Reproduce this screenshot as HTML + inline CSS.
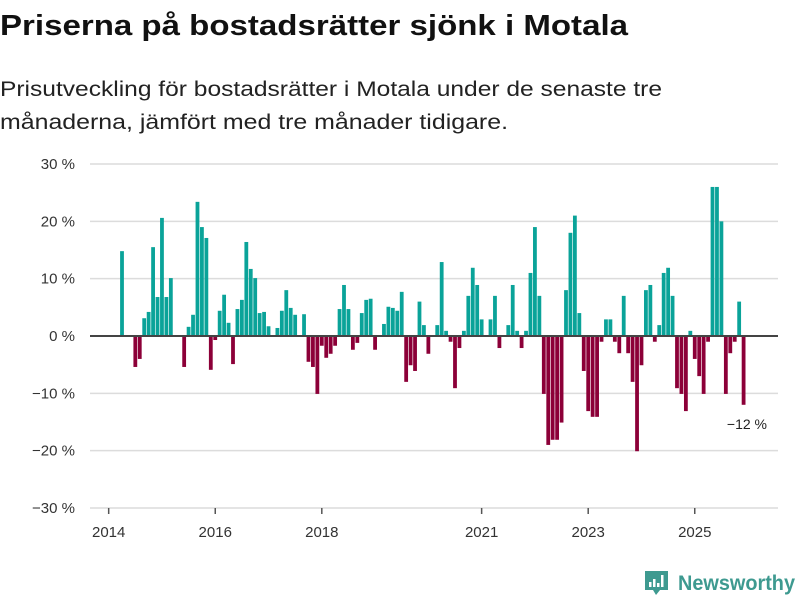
<!DOCTYPE html>
<html><head><meta charset="utf-8"><style>
html,body{margin:0;padding:0;background:#fff;}
svg{display:block;font-family:"Liberation Sans",sans-serif;}
</style></head><body>
<svg id="chart" width="800" height="600" viewBox="0 0 800 600">
<text x="0" y="35" font-size="29" font-weight="bold" fill="#111" textLength="628" lengthAdjust="spacingAndGlyphs">Priserna på bostadsrätter sjönk i Motala</text>
<text x="0" y="96" font-size="21" fill="#222" textLength="662" lengthAdjust="spacingAndGlyphs">Prisutveckling för bostadsrätter i Motala under de senaste tre</text>
<text x="0" y="129" font-size="21" fill="#222" textLength="508" lengthAdjust="spacingAndGlyphs">månaderna, jämfört med tre månader tidigare.</text>
<g id="grid"></g>
<g id="bars"></g>
<g id="xaxis"></g>
<text x="767" y="429" font-size="14" fill="#222" text-anchor="end">−12 %</text>
<g>
<path d="M645 571 h23 v19 h-8 l-4 5 l-3 -5 h-8 z" fill="#3e9a90"/>
<rect x="649" y="582" width="2.5" height="5" fill="#fff"/>
<rect x="653" y="579" width="2.5" height="8" fill="#fff"/>
<rect x="657" y="583" width="2.5" height="4" fill="#fff"/>
<rect x="661" y="575" width="2.5" height="12" fill="#fff"/>
<text x="678" y="590" font-size="21" font-weight="bold" fill="#3e9a90" textLength="117" lengthAdjust="spacingAndGlyphs">Newsworthy</text>
</g>
</svg>
<script>
const startMonth = 3; // months after Jan 2014 (April 2014)
const values = [14.8,null,null,-5.4,-4,3.1,4.2,15.5,6.8,20.6,6.8,10.1,null,null,-5.4,1.6,3.7,23.4,19,17.1,-5.9,-0.7,4.4,7.2,2.3,-4.9,4.7,6.3,16.4,11.7,10.1,4.0,4.2,1.7,null,1.4,4.4,8.0,4.9,3.7,null,3.8,-4.5,-5.4,-10.1,-1.7,-3.8,-3.1,-1.7,4.7,8.9,4.7,-2.4,-1.2,4.0,6.3,6.5,-2.4,null,2.1,5.1,4.9,4.4,7.7,-8.0,-5.1,-6.1,6.0,1.9,-3.1,null,1.9,12.9,0.9,-1.0,-9.1,-2.1,0.9,7.0,11.9,8.9,2.9,null,2.9,7.0,-2.1,null,1.9,8.9,0.9,-2.1,0.9,11,19,7,-10.1,-19,-18.1,-18.1,-15.1,8,18,21,4,-6.1,-13.1,-14.1,-14.1,-1,2.9,2.9,-1,-3,7,-3,-8,-20.1,-5.1,8,8.9,-1,1.9,11,11.9,7,-9.1,-10.1,-13.1,0.9,-4,-7,-10.1,-1,26,26,20,-10.1,-3,-1,6,-12];
const yTicks = [30,20,10,0,-10,-20,-30];
const xTickYears = [2014,2016,2018,2021,2023,2025];

const NS="http://www.w3.org/2000/svg";
function y(v){return 336 - v*5.733;}
function x(m){return 122 + 4.44*(m-3);} // m: months since Jan 2014
function mk(tag,attrs,parent){const e=document.createElementNS(NS,tag);for(const k in attrs)e.setAttribute(k,attrs[k]);parent.appendChild(e);return e;}

const grid=document.getElementById('grid');
yTicks.forEach(t=>{
  const l=mk('line',{x1:90,x2:778,y1:y(t),y2:y(t),stroke:'#dcdcdc','stroke-width':1.5},grid);
  
  
  const tx=mk('text',{x:75,y:y(t)+5,'font-size':15,fill:'#333','text-anchor':'end'},grid);
  tx.textContent=(t<0?'−'+(-t):t)+' %';
  
  
});

const bars=document.getElementById('bars');
values.forEach((v,i)=>{
  if(v===null)return;
  const cx=x(startMonth+i);
  const r=mk('rect',{x:cx-1.9,width:3.8,y:Math.min(y(v),y(0)),height:Math.abs(y(v)-y(0)),fill:v>=0?'#0aa399':'#8c0038'},bars);
  
  
});
const zl=mk('line',{x1:90,x2:778,y1:y(0),y2:y(0),stroke:'#444','stroke-width':2},bars);



const xa=document.getElementById('xaxis');
xTickYears.forEach(yr=>{
  const px=x((yr-2014)*12);
  const tk=mk('line',{x1:px,x2:px,y1:508,y2:514,stroke:'#555','stroke-width':1.5},xa);
  
  
  const tx=mk('text',{x:px,y:537,'font-size':15,fill:'#333','text-anchor':'middle'},xa);
  tx.textContent=yr;
  
  
});
</script>
</body></html>
